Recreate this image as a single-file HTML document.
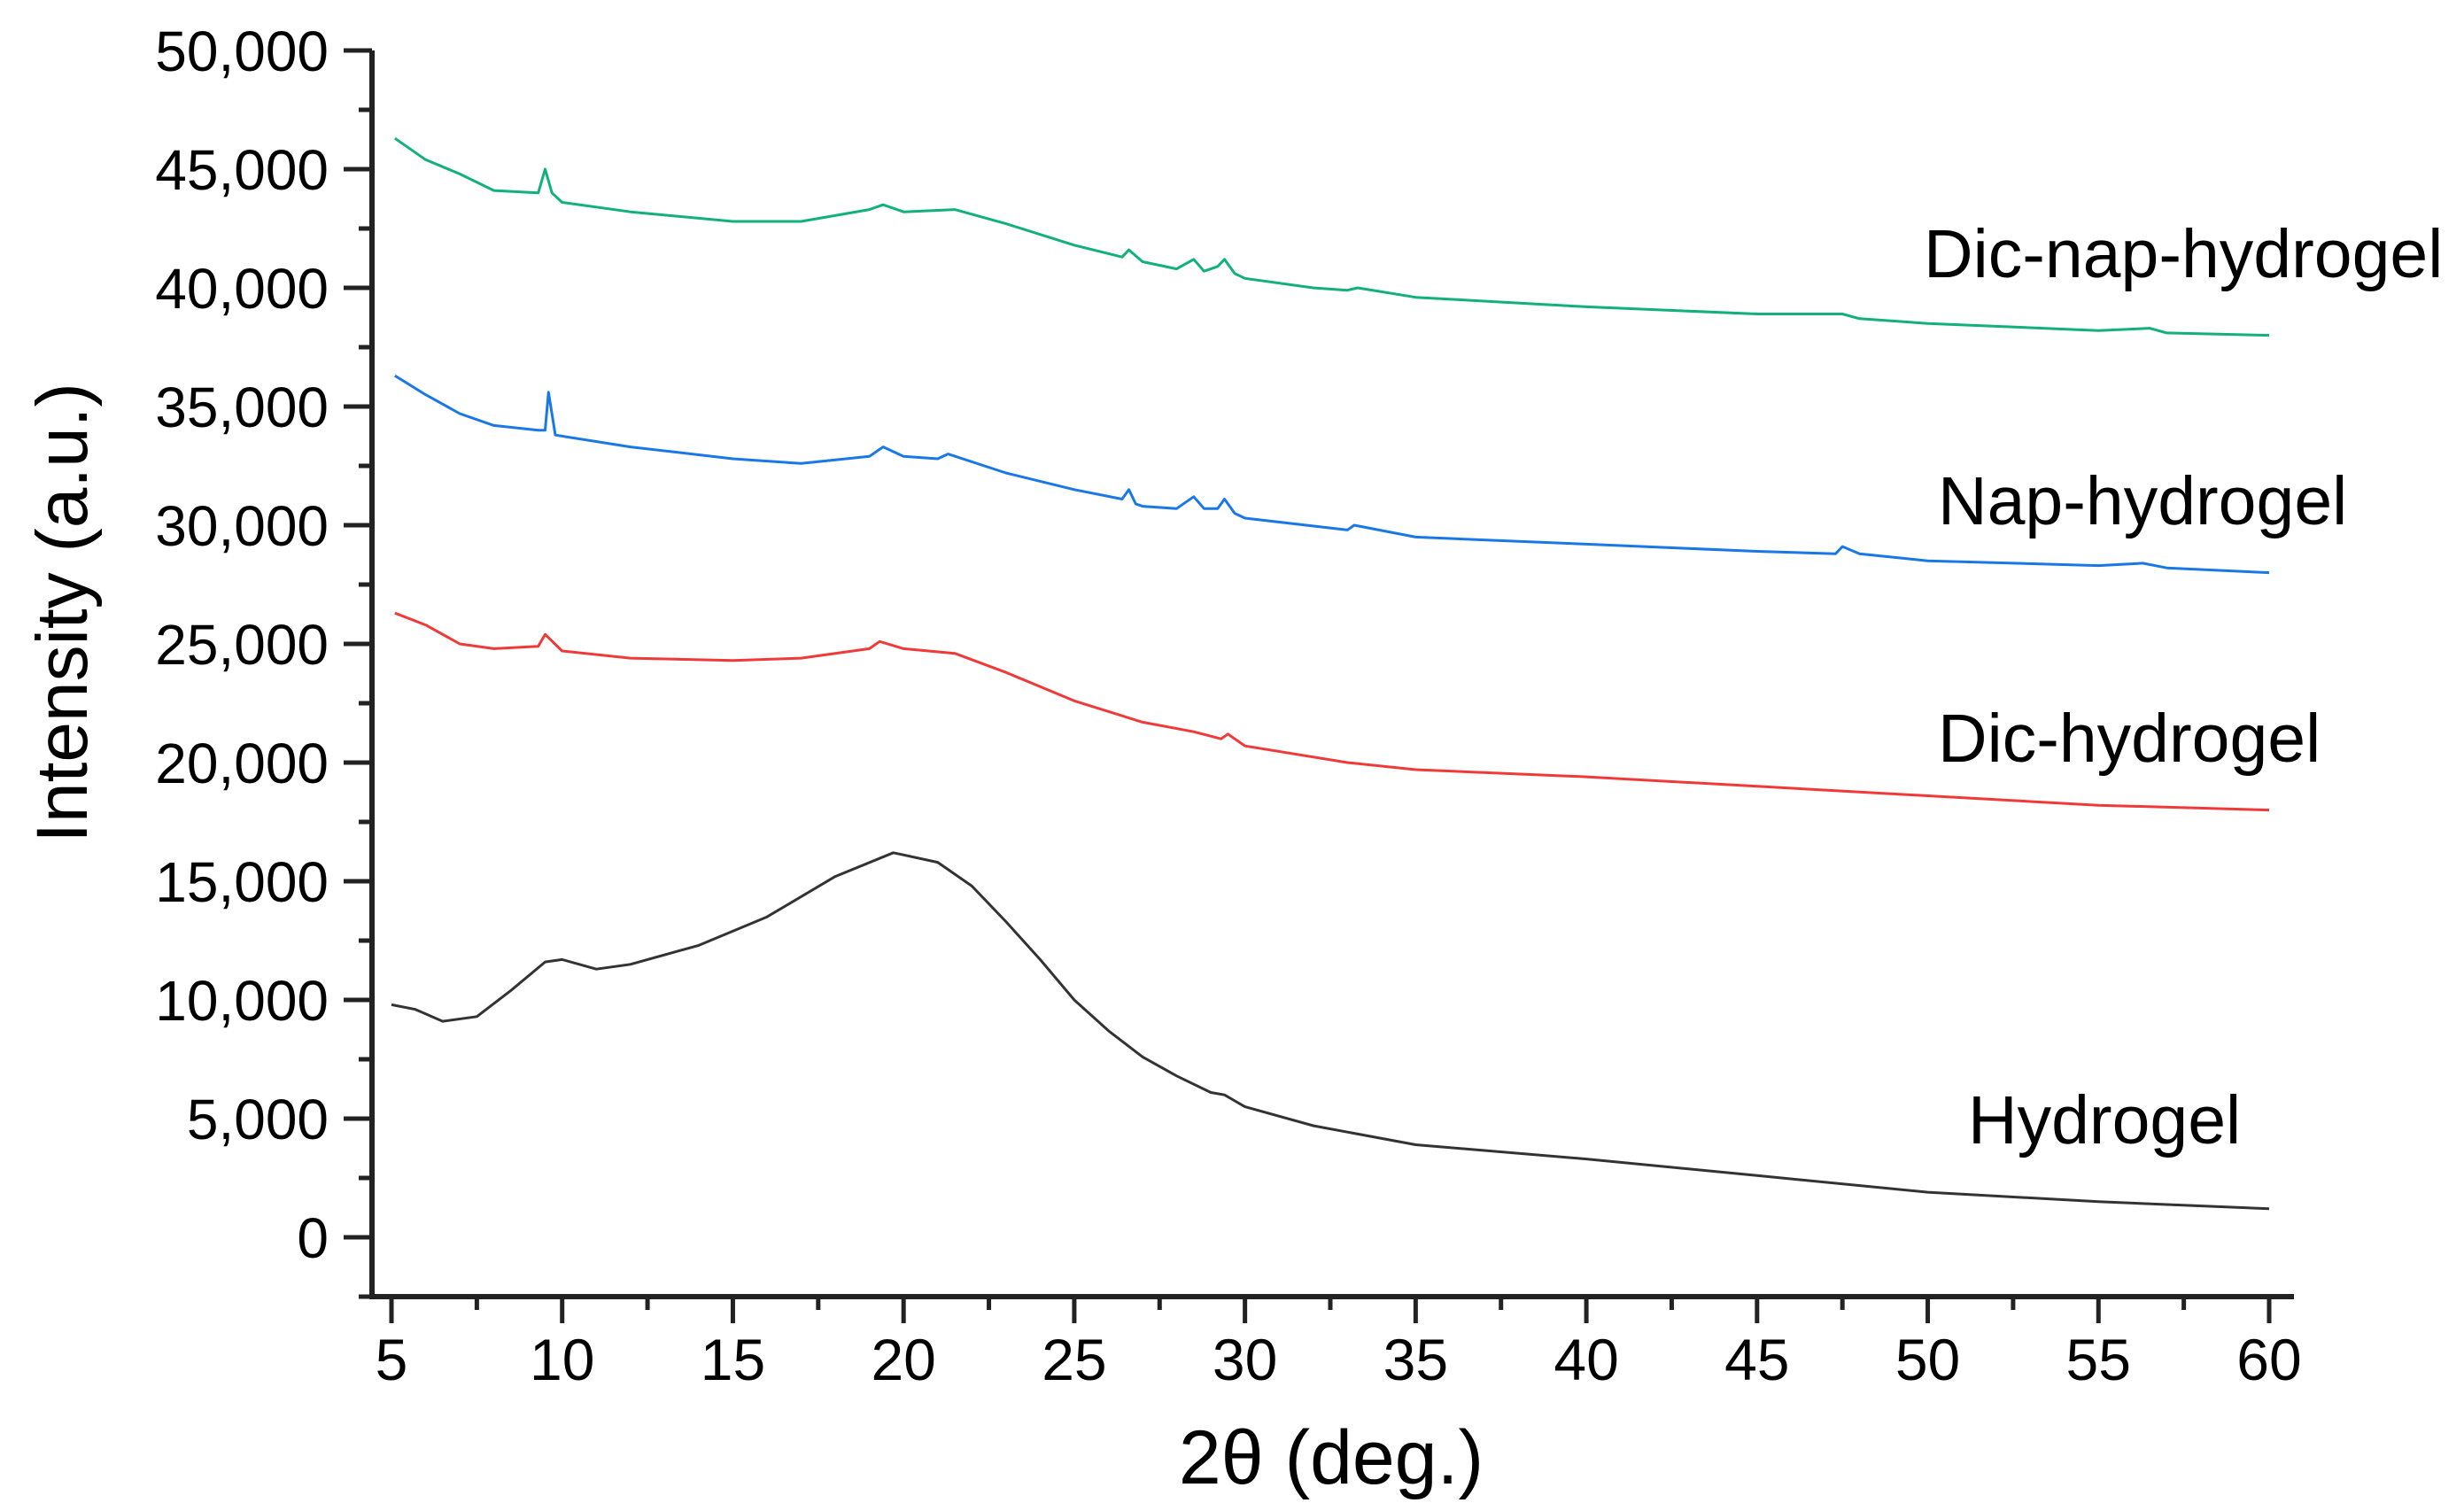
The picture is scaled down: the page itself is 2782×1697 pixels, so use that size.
<!DOCTYPE html>
<html><head><meta charset="utf-8"><style>
html,body{margin:0;padding:0;background:#fff}
svg{display:block}
text{font-family:"Liberation Sans",sans-serif;fill:#000}
</style></head><body>
<svg id="chart" width="2782" height="1697" viewBox="0 0 2782 1697" xmlns="http://www.w3.org/2000/svg">
<g id="axes"></g>
<g id="series"></g>
<g id="labels"></g>
</svg>
<script>
const xTicks=[5,10,15,20,25,30,35,40,45,50,55,60];
const yTicks=[0,5000,10000,15000,20000,25000,30000,35000,40000,45000,50000];
const yTickLabels=["0","5,000","10,000","15,000","20,000","25,000","30,000","35,000","40,000","45,000","50,000"];
const greenX=[5.1,6,7,8,9.3,9.5,9.7,10,12,15,17,19,19.4,20,21.5,23,25,26.4,26.6,27,28,28.5,28.8,29.2,29.4,29.7,30,32,33,33.3,35,40,45,47.5,48,50,55,56.5,57,60];
const greenY=[46300,45400,44800,44100,44000,45000,44000,43600,43200,42800,42800,43300,43500,43200,43300,42700,41800,41300,41600,41100,40800,41200,40700,40900,41200,40600,40400,40000,39900,40000,39600,39200,38900,38900,38700,38500,38200,38300,38100,38000];
const blueX=[5.1,6,7,8,9.3,9.5,9.6,9.8,12,15,17,19,19.4,20,21,21.3,23,25,26.4,26.6,26.8,27,28,28.5,28.8,29.2,29.4,29.7,30,33,33.2,35,40,45,47.3,47.5,48,50,55,56.3,57,60];
const blueY=[36300,35500,34700,34200,34000,34000,35600,33800,33300,32800,32600,32900,33300,32900,32800,33000,32200,31500,31100,31500,30900,30800,30700,31200,30700,30700,31100,30500,30300,29800,30000,29500,29200,28900,28800,29100,28800,28500,28300,28400,28200,28000];
const redX=[5.1,6,7,8,9.3,9.5,10,12,15,17,19,19.3,20,21.5,23,25,27,28.5,29.3,29.5,30,33,35,40,45,50,55,60];
const redY=[26300,25800,25000,24800,24900,25400,24700,24400,24300,24400,24800,25100,24800,24600,23800,22600,21700,21300,21000,21200,20700,20000,19700,19400,19000,18600,18200,18000];
const blackX=[5,5.7,6.5,7.5,8.5,9.5,10,11,12,14,16,18,19.7,21,22,23,24,25,26,27,28,29,29.4,30,32,35,40,45,50,55,60];
const blackY=[9800,9600,9100,9300,10400,11600,11700,11300,11500,12300,13500,15200,16200,15800,14800,13300,11700,10000,8700,7600,6800,6100,6000,5500,4700,3900,3300,2600,1900,1500,1200];
const NS="http://www.w3.org/2000/svg";
const X0=442,X1=2562,Y0=1397,Y1=57;
function sx(v){return X0+(v-5)/55*(X1-X0);}
function sy(v){return Y0-(v/50000)*(Y0-Y1);}
function mk(tag,attrs,parent){const e=document.createElementNS(NS,tag);for(const k in attrs)e.setAttribute(k,attrs[k]);parent.appendChild(e);return e;}
const axes=document.getElementById('axes');
let e;
e=mk('line',{x1:420,y1:Y1,x2:420,y2:1466,stroke:'#222','stroke-width':6},axes);


e=mk('line',{x1:417,y1:1464,x2:2590,y2:1464,stroke:'#222','stroke-width':6},axes);


yTicks.forEach((v,i)=>{
  const t=mk('line',{x1:388,y1:sy(v),x2:420,y2:sy(v),stroke:'#222','stroke-width':5},axes);
  
  
  const m=mk('line',{x1:405,y1:sy(v+2500),x2:420,y2:sy(v+2500),stroke:'#222','stroke-width':5},axes);
  
  
  const l=mk('text',{x:371,y:sy(v)+23,'text-anchor':'end','font-size':64},axes);
  l.textContent=yTickLabels[i];
  
  
});
{const m=mk('line',{x1:405,y1:sy(-2500),x2:420,y2:sy(-2500),stroke:'#222','stroke-width':5},axes);

}
xTicks.forEach((v,i)=>{
  const t=mk('line',{x1:sx(v),y1:1464,x2:sx(v),y2:1494,stroke:'#222','stroke-width':5},axes);
  
  
  if(i<xTicks.length-1){const m=mk('line',{x1:sx(v+2.5),y1:1464,x2:sx(v+2.5),y2:1479,stroke:'#222','stroke-width':5},axes);
  
  }
  const l=mk('text',{x:sx(v),y:1558,'text-anchor':'middle','font-size':66},axes);
  l.textContent=String(v);
  
  
});
const series=document.getElementById('series');
function drawLine(xs,ys,color,name){
  const pts=xs.map((x,i)=>sx(x).toFixed(1)+','+sy(ys[i]).toFixed(1)).join(' ');
  const p=mk('polyline',{points:pts,fill:'none',stroke:color,'stroke-width':3,'stroke-linejoin':'round'},series);
  
  
}
drawLine(blackX,blackY,'#333333','hydrogel-line');
drawLine(redX,redY,'#f03a3a','dic-hydrogel-line');
drawLine(blueX,blueY,'#1a78e6','nap-hydrogel-line');
drawLine(greenX,greenY,'#12b07a','dic-nap-hydrogel-line');
const labels=document.getElementById('labels');
function lab(txt,x,y,size,name,extra){
  const t=mk('text',Object.assign({x:x,y:y,'font-size':size},extra||{}),labels);
  t.textContent=txt;
  
  
  return t;
}
lab('Dic-nap-hydrogel',2172,313,77,'dic-nap-hydrogel-label');
lab('Nap-hydrogel',2188,592,77,'nap-hydrogel-label');
lab('Dic-hydrogel',2188,860,77,'dic-hydrogel-label');
lab('Hydrogel',2222,1291,77,'hydrogel-label');
lab('2θ (deg.)',1503,1675,86,'x-axis-title',{'text-anchor':'middle'});
lab('Intensity (a.u.)',0,0,82,'y-axis-title',{'text-anchor':'middle',transform:'translate(98,692) rotate(-90)'});
</script>
</body></html>
